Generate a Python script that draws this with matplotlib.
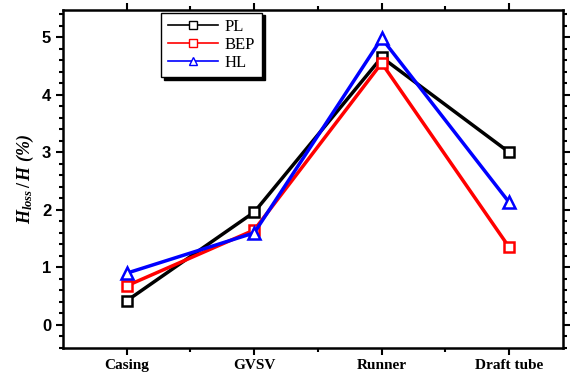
import matplotlib
matplotlib.use('Agg')
import matplotlib.pyplot as plt
from matplotlib.ticker import MultipleLocator, FixedLocator

plt.rcParams['mathtext.fontset'] = 'custom'
plt.rcParams['mathtext.it'] = 'Liberation Serif:bold:italic'
plt.rcParams['mathtext.rm'] = 'Liberation Serif:bold'

categories = ['Casing', 'GVSV', 'Runner', 'Draft tube']
pl = [0.42, 1.96, 4.65, 3.0]
bep = [0.68, 1.65, 4.55, 1.35]
hl = [0.90, 1.60, 4.98, 2.13]

fig = plt.figure(figsize=(5.73, 3.73), dpi=100)
ax = fig.add_axes([0.110, 0.067, 0.872, 0.906])

x = list(range(len(categories)))
ax.plot(x, pl, color='black', lw=2.5, marker='s', ms=7, mfc='white', mec='black', mew=1.8, label='PL')
ax.plot(x, bep, color='red', lw=2.5, marker='s', ms=7, mfc='white', mec='red', mew=1.8, label='BEP')
ax.plot(x, hl, color='blue', lw=2.5, marker='^', ms=8, mfc='white', mec='blue', mew=1.8, label='HL')

ax.set_xlim(-0.5, 3.42)
ax.set_ylim(-0.4, 5.47)
ax.set_xticks(x)
ax.set_xticklabels(categories, family='Liberation Serif', fontweight='bold', fontsize=11)
ax.xaxis.set_minor_locator(FixedLocator([0.5, 1.5, 2.5]))
ax.yaxis.set_major_locator(MultipleLocator(1))
ax.yaxis.set_minor_locator(MultipleLocator(0.2))
for lab in ax.get_yticklabels():
    lab.set_family('Liberation Sans')
    lab.set_fontweight('bold')
    lab.set_fontsize(12)

ax.tick_params(which='both', direction='out', top=True, right=True, width=1.5)
ax.tick_params(which='major', length=5)
ax.tick_params(which='minor', length=3)
ax.tick_params(axis='x', pad=3)
for s in ax.spines.values():
    s.set_linewidth(1.8)

ax.set_ylabel(r'$H_{loss}\,/\,H$ (%)', family='Liberation Serif',
              fontweight='bold', fontstyle='italic', fontsize=13, labelpad=4)

leg = ax.legend(loc='upper left', bbox_to_anchor=(0.192, 1.0), borderaxespad=0.15,
                shadow={'color': 'black', 'alpha': 1.0}, fancybox=False,
                prop={'family': 'Liberation Serif', 'size': 12}, handlelength=3.0,
                handletextpad=0.4, borderpad=0.4, labelspacing=0.1, edgecolor='black')
leg.get_frame().set_linewidth(1.0)
for line in leg.get_lines():
    line.set_linewidth(1.2)
    line.set_markeredgewidth(1.0)
    line.set_markersize(6)

fig.savefig('out.png', dpi=100)
